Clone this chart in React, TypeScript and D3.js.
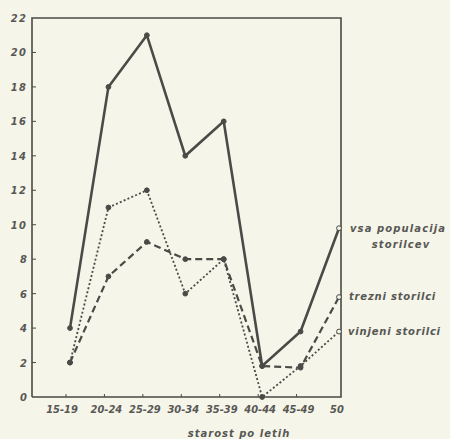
import React from 'react';
import * as d3 from 'd3';

const ageGroups = ['15-19', '20-24', '25-29', '30-34', '35-39', '40-44', '45-49', '50'];
const allOffenders = [4, 18, 21, 14, 16, 1.8, 3.8, 9.8];
const soberOffenders = [2, 7, 9, 8, 8, 1.8, 1.7, 5.8];
const drunkOffenders = [2, 11, 12, 6, 8, 0, 1.8, 3.8];
const yTicks = [0, 2, 4, 6, 8, 10, 12, 14, 16, 18, 20, 22];

const W = 450;
const H = 439;
const ink = '#4a4a47';
const paper = '#f5f5e9';
const condensed = '"DejaVu Sans Condensed", "DejaVu Sans", sans-serif';
const wide = '"DejaVu Sans", sans-serif';

export default function App() {
    const left = 32;
    const right = 341;
    const top = 18;
    const bottom = 397;

    const x = d3.scalePoint<string>().domain(ageGroups).range([70, 339]);
    const y = d3.scaleLinear().domain([0, 22]).range([bottom, top]);

    const line = d3
        .line<number>()
        .x((_, i) => x(ageGroups[i])!)
        .y((d) => y(d));

    const series = [
        { name: 'all', values: allOffenders, width: 2.6, dash: undefined },
        { name: 'sober', values: soberOffenders, width: 2.2, dash: '7 4' },
        { name: 'drunk', values: drunkOffenders, width: 1.8, dash: '2 2.2' },
    ];

    const label = {
        fontStyle: 'italic',
        fontWeight: 'bold',
        fill: '#575754',
    } as const;

    return (
        <svg
            width={W}
            height={H}
            style={{ position: 'absolute', left: 0, top: 0, background: paper }}
        >
            <rect width={W} height={H} fill={paper} />

            {/* frame */}
            <path
                d={`M${left},${bottom}V${top}H${right}V${bottom}H${left}`}
                fill="none"
                stroke={ink}
                strokeWidth={1.6}
            />

            {/* y ticks */}
            {yTicks.map((t) => (
                <g key={t}>
                    {t > 0 && t < 22 && (
                        <line x1={left} x2={left + 4} y1={y(t)} y2={y(t)} stroke={ink} strokeWidth={1} />
                    )}
                    <text
                        x={27}
                        y={y(t) + 4}
                        textAnchor="end"
                        fontSize={11}
                        fontFamily={condensed}
                        letterSpacing={t >= 10 ? 1.2 : 0}
                        {...label}
                    >
                        {t}
                    </text>
                </g>
            ))}

            {/* x ticks */}
            {ageGroups.map((g, i) => (
                <g key={g}>
                    {g !== '50' && (
                        <line x1={x(g)! - 4} x2={x(g)! - 4} y1={bottom} y2={bottom - 3} stroke={ink} strokeWidth={1} />
                    )}
                    <text
                        x={x(g)! - (i === 0 ? 8 : 2)}
                        y={413}
                        textAnchor="middle"
                        fontSize={11}
                        fontFamily={condensed}
                        {...label}
                    >
                        {g}
                    </text>
                </g>
            ))}
            <text x={239} y={437} textAnchor="middle" fontSize={10} fontFamily={wide} letterSpacing={1} {...label}>
                starost po letih
            </text>

            {/* lines */}
            {series.map((s) => (
                <g key={s.name}>
                    <path
                        d={line(s.values)!}
                        fill="none"
                        stroke={ink}
                        strokeWidth={s.width}
                        strokeDasharray={s.dash}
                        strokeLinejoin="miter"
                    />
                    {s.values.map((v, i) => (
                        <circle
                            key={i}
                            cx={x(ageGroups[i])!}
                            cy={y(v)}
                            r={2.4}
                            fill={i === ageGroups.length - 1 ? paper : ink}
                            stroke={ink}
                            strokeWidth={1}
                        />
                    ))}
                </g>
            ))}

            {/* legend labels */}
            <text x={350} y={232} fontSize={10} fontFamily={wide} letterSpacing={1.1} {...label}>
                vsa populacija
            </text>
            <text x={401} y={248} textAnchor="middle" fontSize={10} fontFamily={wide} letterSpacing={1.1} {...label}>
                storilcev
            </text>
            <text x={349} y={y(soberOffenders[7]) + 3} fontSize={10} fontFamily={wide} letterSpacing={0.8} {...label}>
                trezni storilci
            </text>
            <text x={348} y={y(drunkOffenders[7]) + 3} fontSize={10} fontFamily={wide} letterSpacing={0.8} {...label}>
                vinjeni storilci
            </text>
        </svg>
    );
}
